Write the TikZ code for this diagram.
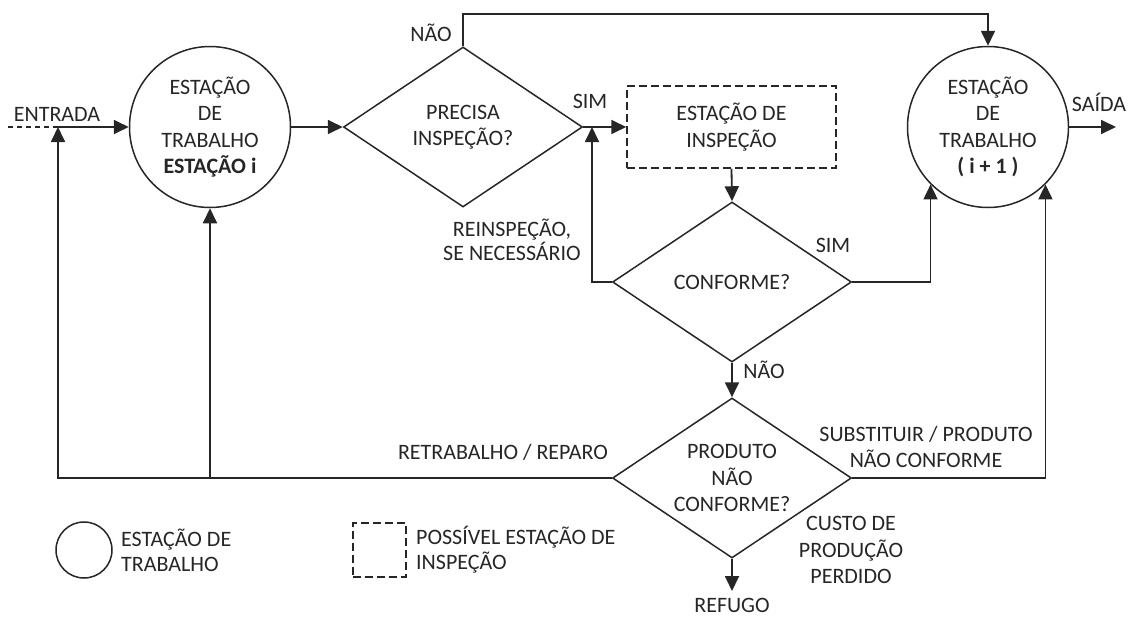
\documentclass[tikz,border=0pt]{standalone}
\usepackage{fontspec}
\setmainfont{Carlito}
\usetikzlibrary{shapes.geometric,arrows.meta}
\definecolor{ln}{HTML}{262626}
\definecolor{txt}{HTML}{262626}
\begin{document}
\begin{tikzpicture}[x=1pt,y=-1pt,
  every node/.style={font=\fontsize{22}{26.5}\selectfont, text=txt},
  flow/.style={line width=1.8pt, draw=ln},
  arr/.style={flow, -{Triangle[length=15pt,width=14pt]}},
  station/.style={circle, draw=ln, line width=1.5pt, minimum size=161pt, inner sep=0pt, align=center},
  decision/.style={diamond, draw=ln, line width=1.5pt, minimum width=239pt, minimum height=160pt, inner sep=0pt},
  inspect/.style={rectangle, draw=ln, line width=1.5pt, dash pattern=on 8pt off 4pt, inner sep=0pt, align=center},
  lbl/.style={align=center, inner sep=0pt}]
\useasboundingbox (0,0) rectangle (1132,616);

% main stations, decisions and the inspection box
\node[station] (c1) at (210,127) {ESTAÇÃO\\DE\\TRABALHO\\\textbf{ESTAÇÃO i}};
\node[station] (c2) at (988,127) {ESTAÇÃO\\DE\\TRABALHO\\\textbf{( i + 1 )}};
\node[decision] (d1) at (463,127) {};
\node[lbl] at (d1) {PRECISA\\INSPEÇÃO?};
\node[inspect, minimum width=209pt, minimum height=82pt] (box) at (731.5,127) {ESTAÇÃO DE\\INSPEÇÃO};
\node[decision] (d2) at (732,282) {};
\node[lbl] at (d2) {CONFORME?};
\node[decision] (d3) at (732,478) {};
\node[lbl] at (d3) {PRODUTO\\NÃO\\CONFORME?};

% helper points
\coordinate (in0) at (8,127);
\coordinate (j1) at (58,127);
\coordinate (top) at (463,14);
\coordinate (rb) at (592,127);
\coordinate (out) at (1116,127);
\coordinate (scrap) at (732,591);

% connectors
\draw[flow, dash pattern=on 5pt off 4pt] (in0) -- (j1);
\draw[arr] (j1) -- (c1.west);
\draw[arr] (c1.east) -- (d1.west);
\draw[arr] (d1.north) -- (top) -| (c2.north);
\draw[arr] (d1.east) -- (box.west);
\draw[arr] (box.south) -- (d2.north);
\draw[arr] (d2.east) -| (c2.south west);
\draw[arr] (d2.west) -| (rb);
\draw[arr] (d2.south) -- (d3.north);
\draw[arr] (d3.west) -| (j1);
\draw[arr] (c1.south |- d3.west) -- (c1.south);
\draw[arr] (d3.east) -| (c2.south east);
\draw[arr] (d3.south) -- (scrap);
\draw[arr] (c2.east) -- (out);

% connector labels
\node[lbl] at (57,114) {ENTRADA};
\node[lbl] at (431,33) {NÃO};
\node[lbl] at (590,101) {SIM};
\node[lbl] at (1099,102) {SAÍDA};
\node[lbl, font=\fontsize{22}{24}\selectfont] at (512,240) {REINSPEÇÃO,\\SE NECESSÁRIO};
\node[lbl] at (833,245) {SIM};
\node[lbl] at (764,370) {NÃO};
\node[lbl] at (503,452) {RETRABALHO / REPARO};
\node[lbl] at (926,447) {SUBSTITUIR / PRODUTO\\NÃO CONFORME};
\node[lbl] at (851,550) {CUSTO DE\\PRODUÇÃO\\PERDIDO};
\node[lbl] at (732,605) {REFUGO};

% legend
\node[circle, draw=ln, line width=1.5pt, minimum size=56pt, inner sep=0pt] (legc) at (84,550) {};
\node[lbl, anchor=west, align=left, font=\fontsize{22}{25}\selectfont] (legct) at (121,550) {ESTAÇÃO DE\\TRABALHO};
\node[inspect, minimum width=53pt, minimum height=54pt] (legb) at (379.5,550) {};
\node[lbl, anchor=west, align=left, font=\fontsize{22}{25}\selectfont] (legbt) at (416,550) {POSSÍVEL ESTAÇÃO DE\\INSPEÇÃO};
\end{tikzpicture}
\end{document}
